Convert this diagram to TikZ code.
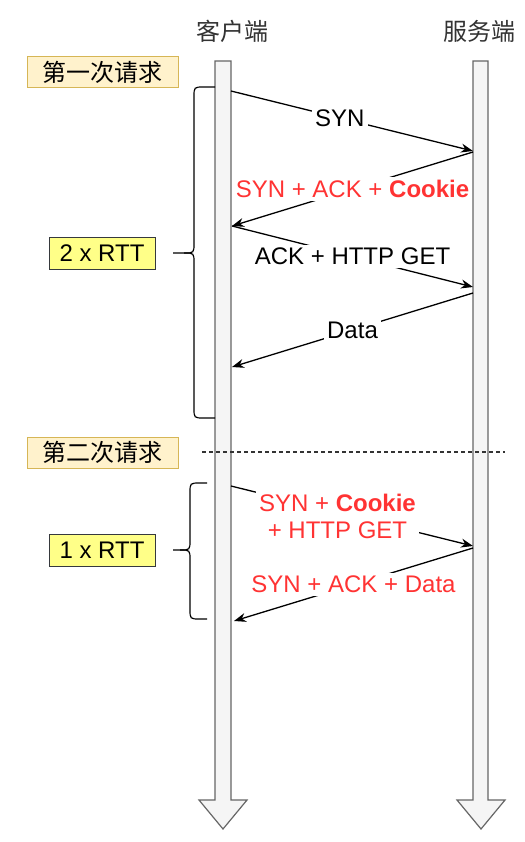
\documentclass[tikz,border=0pt]{standalone}
\usepackage{fontspec}
\setmainfont{Liberation Sans}
\newfontfamily\cjk{Noto Sans CJK SC}
\usepackage{xcolor}
\usetikzlibrary{arrows.meta}
\definecolor{lifefill}{HTML}{F5F5F5}
\definecolor{lifedraw}{HTML}{666666}
\definecolor{stagefill}{HTML}{FFF2CC}
\definecolor{stagedraw}{HTML}{D6B656}
\definecolor{rttfill}{HTML}{FFFF88}
\definecolor{rttdraw}{HTML}{36393D}
\definecolor{msgred}{HTML}{FF3333}
\definecolor{headtext}{HTML}{333333}

\begin{document}
\begin{tikzpicture}[x=1pt,y=-1pt,
  life/.style={fill=lifefill,draw=lifedraw,line width=1.2pt},
  msg/.style={line width=1.3pt,-{Stealth[length=12pt,width=9pt]}},
  lbl/.style={fill=white,inner xsep=3pt,inner ysep=3pt,font=\fontsize{24}{27}\selectfont},
  stage/.style={draw=stagedraw,fill=stagefill,line width=1pt,minimum width=151pt,minimum height=31pt,inner sep=0pt,font=\cjk\fontsize{24}{26}\selectfont},
  rtt/.style={draw=rttdraw,fill=rttfill,line width=1pt,minimum width=106pt,minimum height=32pt,inner sep=0pt,font=\fontsize{24}{26}\selectfont},
  brace/.style={line width=1.2pt}]

\useasboundingbox[fill=white](0,0)rectangle(524,842);

%% lifelines
\draw[life](215,61)--(231,61)--(231,800)--(247,800)--(223,829)--(199,800)--(215,800)--cycle;
\draw[life](473,61)--(488,61)--(488,800)--(505,800)--(481,829)--(457,800)--(473,800)--cycle;
\node(client)[text=headtext,font=\cjk\fontsize{24}{26}\selectfont]at(232,31){客户端};
\node(server)[text=headtext,font=\cjk\fontsize{24}{26}\selectfont]at(479,31){服务端};

%% first request
\coordinate(C1)at(231,91);
\coordinate(S1)at(473,151);
\coordinate(S2)at(473,152);
\coordinate(C2)at(232,226);
\coordinate(S3)at(473,287);
\coordinate(S4)at(473,293);
\coordinate(C3)at(232,367);

\draw[msg](C1)--node[lbl,pos=.45]{SYN}(S1);
\draw[msg](S2)--node[lbl,text=msgred]{SYN + ACK + \textbf{Cookie}}(C2);
\draw[msg](C2)--node[lbl]{ACK + HTTP GET}(S3);
\draw[msg](S4)--node[lbl]{Data}(C3);

%% second request
\coordinate(C4)at(231,486);
\coordinate(S5)at(473,546);
\coordinate(S6)at(473,548);
\coordinate(C5)at(234,621);

\draw[msg](C4)--node[lbl,pos=.44,yshift=-4pt,align=center,text=msgred]{SYN + \textbf{Cookie}\\+ HTTP GET}(S5);
\draw[msg](S6)--node[lbl,text=msgred]{SYN + ACK + Data}(C5);

\draw[headtext,line width=1.2pt,dash pattern=on 4pt off 3pt](202,452)--(505,452);

%% braces
\coordinate(B1t)at(215,87);
\coordinate(B1b)at(215,418);
\coordinate(B1m)at(173,253);
\draw[brace](B1t)--(204,87)..controls(194,87)..(194,97)--(194,243)..controls(194,253)..(184,253)--(B1m);
\draw[brace](184,253)..controls(194,253)..(194,263)--(194,408)..controls(194,418)..(204,418)--(B1b);

\coordinate(B2t)at(207,483);
\coordinate(B2b)at(207,619);
\coordinate(B2m)at(173,550);
\draw[brace](B2t)--(200,483)..controls(190,483)..(190,493)--(190,540)..controls(190,550)..(180,550)--(B2m);
\draw[brace](180,550)..controls(190,550)..(190,560)--(190,609)..controls(190,619)..(200,619)--(B2b);

%% labels on the left
\node(first)[stage]at(102.5,72.5){第一次请求};
\node(second)[stage]at(102.5,452.5){第二次请求};
\node(rtt2)[rtt]at(102,253){2 x RTT};
\node(rtt1)[rtt]at(102,550.5){1 x RTT};
\end{tikzpicture}
\end{document}
